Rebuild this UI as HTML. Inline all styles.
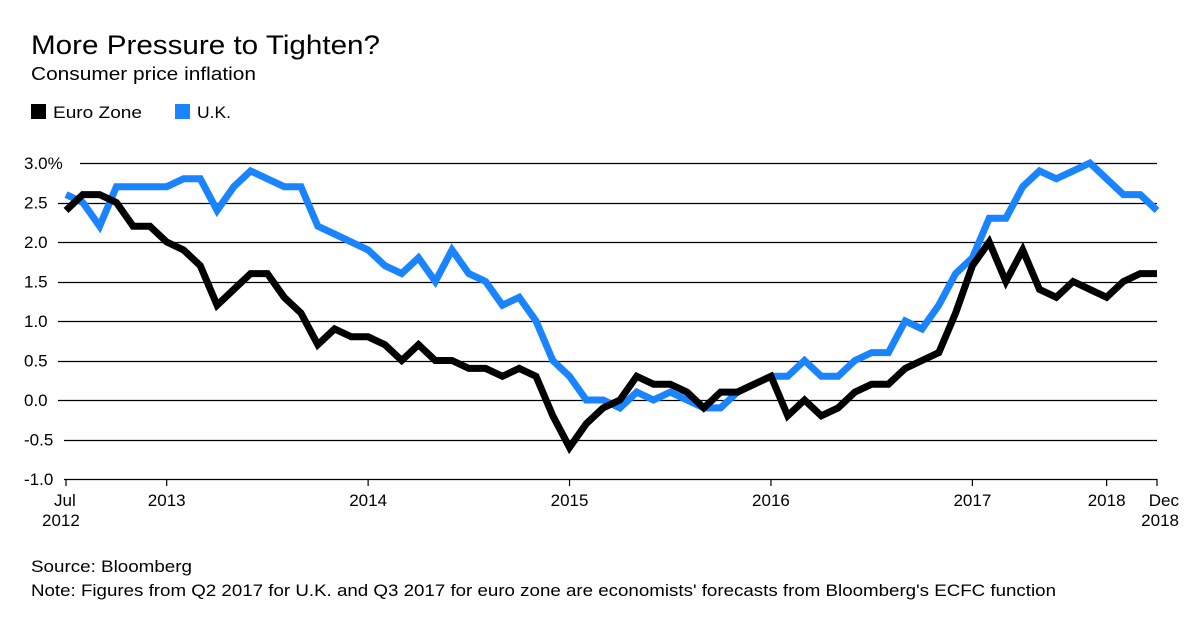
<!DOCTYPE html>
<html><head><meta charset="utf-8"><style>
body{margin:0;background:#fff;width:1200px;height:635px;overflow:hidden;font-family:"Liberation Sans",sans-serif;color:#000}
svg text{font-family:"Liberation Sans",sans-serif}
</style></head><body>
<svg width="1200" height="635">
<text x="31" y="54" font-size="27" textLength="349" lengthAdjust="spacingAndGlyphs">More Pressure to Tighten?</text>
<text x="31" y="80" font-size="18" textLength="225" lengthAdjust="spacingAndGlyphs">Consumer price inflation</text>
<g>
<rect x="31" y="104" width="15" height="15" fill="#000"/>
<text x="53" y="118" font-size="17" textLength="89" lengthAdjust="spacingAndGlyphs">Euro Zone</text>
<rect x="175" y="104" width="15" height="15" fill="#1a84ff"/>
<text x="197" y="118" font-size="17" textLength="34" lengthAdjust="spacingAndGlyphs">U.K.</text>
</g>
<g id="grid"></g><g id="xaxis"></g><g id="lines"></g>
<text x="31" y="572" font-size="17" textLength="161" lengthAdjust="spacingAndGlyphs">Source: Bloomberg</text>
<text x="31" y="596" font-size="17" textLength="1025" lengthAdjust="spacingAndGlyphs">Note: Figures from Q2 2017 for U.K. and Q3 2017 for euro zone are economists' forecasts from Bloomberg's ECFC function</text>
</svg>
<script>
const euroValues=[2.4,2.6,2.6,2.5,2.2,2.2,2.0,1.9,1.7,1.2,1.4,1.6,1.6,1.3,1.1,0.7,0.9,0.8,0.8,0.7,0.5,0.7,0.5,0.5,0.4,0.4,0.3,0.4,0.3,-0.2,-0.6,-0.3,-0.1,0.0,0.3,0.2,0.2,0.1,-0.1,0.1,0.1,0.2,0.3,-0.2,0.0,-0.2,-0.1,0.1,0.2,0.2,0.4,0.5,0.6,1.1,1.7,2.0,1.5,1.9,1.4,1.3,1.5,1.4,1.3,1.5,1.6,1.6];
const ukValues=[2.6,2.5,2.2,2.7,2.7,2.7,2.7,2.8,2.8,2.4,2.7,2.9,2.8,2.7,2.7,2.2,2.1,2.0,1.9,1.7,1.6,1.8,1.5,1.9,1.6,1.5,1.2,1.3,1.0,0.5,0.3,0.0,0.0,-0.1,0.1,0.0,0.1,0.0,-0.1,-0.1,0.1,0.2,0.3,0.3,0.5,0.3,0.3,0.5,0.6,0.6,1.0,0.9,1.2,1.6,1.8,2.3,2.3,2.7,2.9,2.8,2.9,3.0,2.8,2.6,2.6,2.4];
const yTicks=[3.0,2.5,2.0,1.5,1.0,0.5,0.0,-0.5,-1.0];
const yTickLabels=["3.0%","2.5","2.0","1.5","1.0","0.5","0.0","-0.5","-1.0"];
const xTickIndex=[0,6,18,30,42,54,62,65];
const xTickLabels=[["Jul","2012"],["2013"],["2014"],["2015"],["2016"],["2017"],["2018"],["Dec","2018"]];
const NS="http://www.w3.org/2000/svg";
const x0=66,x1=1157,n=euroValues.length;
const xs=i=>x0+(x1-x0)*i/(n-1);
const ys=v=>400-v*79;
function mk(tag,attrs,parent){const e=document.createElementNS(NS,tag);for(const k in attrs)e.setAttribute(k,attrs[k]);parent.appendChild(e);return e;}
const grid=document.getElementById('grid');
yTicks.forEach((v,i)=>{
  const lbl=yTickLabels[i];
  const t=mk('text',{x:24,y:ys(v)+6,'font-size':17},grid);t.textContent=lbl;
  
  
  const lx=i===0?80:(lbl.length>3?64:58);
  const yy=Math.round(ys(v))+0.5;
  const l=mk('line',{x1:lx,x2:x1,y1:yy,y2:yy,stroke:'#000','stroke-width':1.2},grid);
  
  
});
const xa=document.getElementById('xaxis');
xTickIndex.forEach((ix,k)=>{
  const x=xs(ix);
  const tk=mk('line',{x1:x,x2:x,y1:479,y2:486,stroke:'#000','stroke-width':1.2},xa);
  
  
  const labs=xTickLabels[k];
  labs.forEach((s,j)=>{
    let anchor='middle',tx=x;
    if(k===0){anchor='start';tx=j===0?54:42;}
    if(k===xTickIndex.length-1){anchor='end';tx=1179;}
    const t=mk('text',{x:tx,y:506+j*20,'font-size':17,'text-anchor':anchor},xa);t.textContent=s;
    
    
  });
});
const lines=document.getElementById('lines');
function path(vals,color,name){
  const d=vals.map((v,i)=>(i?'L':'M')+xs(i).toFixed(1)+','+ys(v).toFixed(1)).join('');
  const p=mk('path',{d:d,fill:'none',stroke:color,'stroke-width':7,'stroke-linejoin':'miter','stroke-miterlimit':3},lines);
  
  
}
path(ukValues,'#1a84ff','uk-line');
path(euroValues,'#000','euro-zone-line');
</script>
</body></html>
